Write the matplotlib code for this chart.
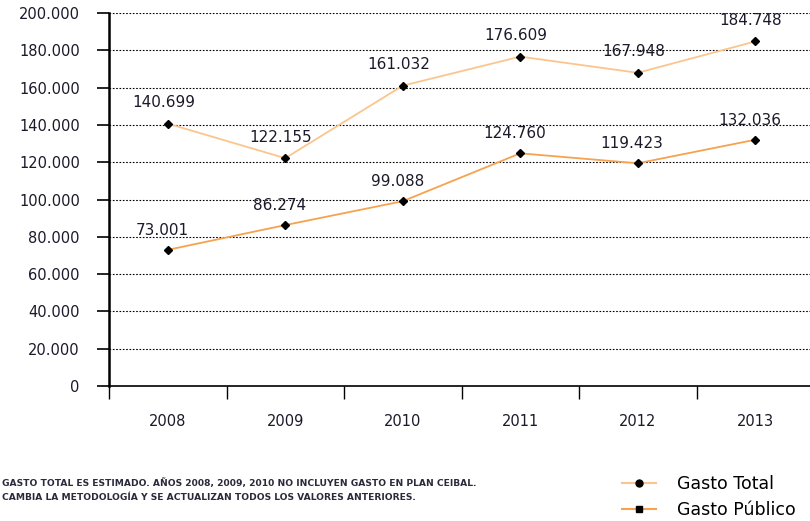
import matplotlib.pyplot as plt
from matplotlib.lines import Line2D

# Gasto total y gasto público por año
years = ["2008", "2009", "2010", "2011", "2012", "2013"]
gasto_total = [140699, 122155, 161032, 176609, 167948, 184748]
gasto_publico = [73001, 86274, 99088, 124760, 119423, 132036]
total_labels = ["140.699", "122.155", "161.032", "176.609", "167.948", "184.748"]
publico_labels = ["73.001", "86.274", "99.088", "124.760", "119.423", "132.036"]
yticks = list(range(0, 200001, 20000))
ytick_labels = ["0" if v == 0 else f"{v // 1000}.000" for v in yticks]

fig = plt.figure(figsize=(8.1, 5.21), dpi=100)
ax = fig.add_axes([109 / 810, 1 - 386 / 521, 705 / 810, 373 / 521])

x = range(len(years))
c_total = "#FBC58E"
c_pub = "#F6A24E"
txt = "#1a1a2a"
ax.plot(x, gasto_total, color=c_total, lw=1.3, marker="D", ms=4.5,
        mfc="black", mec="black", zorder=3)
ax.plot(x, gasto_publico, color=c_pub, lw=1.3, marker="D", ms=4.5,
        mfc="black", mec="black", zorder=3)

for i, (v, s) in enumerate(zip(gasto_total, total_labels)):
    ax.annotate(s, (i, v), xytext=(-3, 15), textcoords="offset points",
                ha="center", va="center", fontsize=11, color=txt)
for i, (v, s) in enumerate(zip(gasto_publico, publico_labels)):
    ax.annotate(s, (i, v), xytext=(-4, 14), textcoords="offset points",
                ha="center", va="center", fontsize=11, color=txt)

ax.set_xlim(-0.5, 5.5)
ax.set_ylim(0, 200000)
ax.set_yticks(yticks)
ax.set_yticklabels(ytick_labels, fontsize=10.5, color=txt)
ax.set_xticks([i - 0.5 for i in range(len(years) + 1)])
ax.set_xticklabels([])
ax.set_xticks(list(x), minor=True)
ax.set_xticklabels(years, minor=True, fontsize=10.5, color=txt)
ax.tick_params(axis="x", which="major", direction="out", length=9, width=1)
ax.tick_params(axis="x", which="minor", length=0, pad=20)
ax.tick_params(axis="y", direction="out", length=9, width=1.2, pad=12)

for yv in yticks[1:]:
    ax.axhline(yv, color="black", lw=0.8, ls=(0, (1.5, 1.5)), zorder=1)

ax.spines["top"].set_visible(False)
ax.spines["right"].set_visible(False)
ax.spines["left"].set_linewidth(1.8)
ax.spines["bottom"].set_linewidth(1.2)

# nota al pie
fig.text(2 / 810, 1 - 483 / 521, "GASTO TOTAL ES ESTIMADO. AÑOS 2008, 2009, 2010 NO INCLUYEN GASTO EN PLAN CEIBAL.",
         fontsize=6.6, fontweight="bold", color="#2a2a3a", va="center")
fig.text(2 / 810, 1 - 497 / 521, "CAMBIA LA METODOLOGÍA Y SE ACTUALIZAN TODOS LOS VALORES ANTERIORES.",
         fontsize=6.6, fontweight="bold", color="#2a2a3a", va="center")

# leyenda
handles = [Line2D([], [], color=c_total, marker="o", ms=5, mfc="black", mec="black"),
           Line2D([], [], color=c_pub, marker="s", ms=5, mfc="black", mec="black")]
fig.legend(handles, ["Gasto Total", "Gasto Público"], loc="center left",
           bbox_to_anchor=(606 / 810, 1 - 497 / 521), frameon=False,
           fontsize=12.5, handlelength=2.0, handletextpad=1.2, labelspacing=0.45)

plt.savefig("out.png", dpi=100)
